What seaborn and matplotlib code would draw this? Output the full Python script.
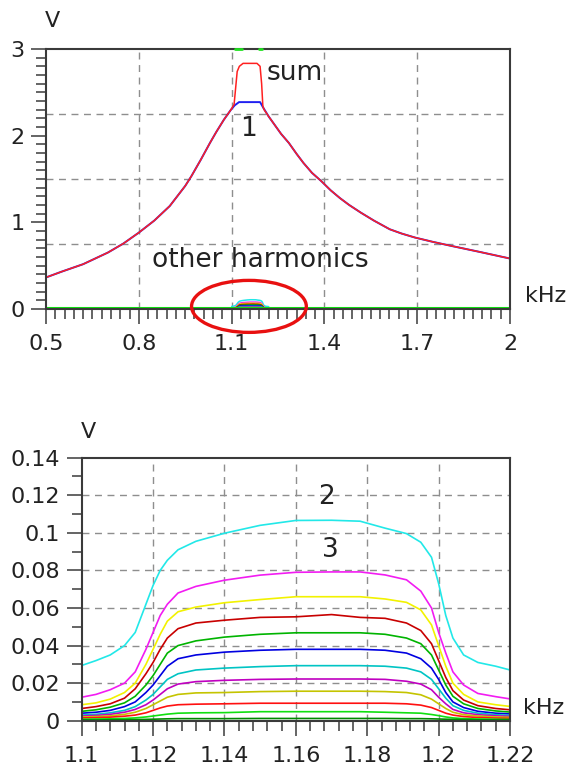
import numpy as np
import pandas as pd
import matplotlib
matplotlib.use("Agg")
import matplotlib.pyplot as plt
import seaborn as sns
from matplotlib.patches import Ellipse

sns.set_theme(style="white")
plt.rcParams['font.family'] = ['DejaVu Sans']

# ---------------- data: top panel (0.5 .. 2 kHz) ----------------
freq_h1 = [0.50, 0.55, 0.62, 0.70, 0.75, 0.80, 0.85, 0.90, 0.95, 0.97, 1.00, 1.03,
           1.05, 1.075, 1.098, 1.110, 1.124, 1.192, 1.203, 1.22, 1.24, 1.26, 1.285,
           1.31, 1.332, 1.36, 1.39, 1.42, 1.45, 1.48, 1.518, 1.56, 1.611, 1.65,
           1.693, 1.75, 1.81, 1.90, 2.00]
volt_h1 = [0.364, 0.43, 0.517, 0.651, 0.755, 0.881, 1.02, 1.188, 1.42, 1.533, 1.72, 1.916,
           2.04, 2.184, 2.30, 2.35, 2.387, 2.387, 2.318, 2.22, 2.12, 2.02, 1.916,
           1.79, 1.686, 1.57, 1.475, 1.37, 1.28, 1.20, 1.111, 1.02, 0.920, 0.87,
           0.824, 0.775, 0.728, 0.66, 0.582]

freq_sum = [0.50, 0.55, 0.62, 0.70, 0.75, 0.80, 0.85, 0.90, 0.95, 0.97, 1.00, 1.03,
            1.05, 1.075, 1.098, 1.108, 1.113, 1.118, 1.125, 1.137, 1.182, 1.192,
            1.197, 1.201, 1.205, 1.22, 1.24, 1.26, 1.285, 1.31, 1.332, 1.36, 1.39,
            1.42, 1.45, 1.48, 1.518, 1.56, 1.611, 1.65, 1.693, 1.75, 1.81, 1.90, 2.00]
volt_sum = [0.364, 0.43, 0.517, 0.651, 0.755, 0.881, 1.02, 1.188, 1.42, 1.533, 1.72, 1.916,
            2.04, 2.184, 2.30, 2.36, 2.55, 2.74, 2.80, 2.834, 2.834, 2.80,
            2.60, 2.34, 2.30, 2.22, 2.12, 2.02, 1.916, 1.79, 1.686, 1.57, 1.475,
            1.37, 1.28, 1.20, 1.111, 1.02, 0.920, 0.87, 0.824, 0.775, 0.728, 0.66, 0.582]

freq_floor = [0.50, 2.00]
volt_floor = [0.012, 0.012]

cursor_spans = [(1.110, 1.133), (1.189, 1.197)]

# ---------------- data: bottom panel (1.1 .. 1.22 kHz) ----------------
freq_zoom = [1.100, 1.104, 1.108, 1.112, 1.115, 1.118, 1.120, 1.122, 1.124, 1.127,
             1.132, 1.140, 1.150, 1.160, 1.170, 1.178, 1.185, 1.191, 1.195, 1.198,
             1.200, 1.202, 1.204, 1.207, 1.211, 1.216, 1.220]

harm2 = [0.0294, 0.032, 0.035, 0.040, 0.047, 0.062, 0.072, 0.080, 0.0854, 0.091,
         0.0955, 0.0998, 0.104, 0.1066, 0.1067, 0.1062, 0.1025, 0.0996, 0.095, 0.087,
         0.073, 0.056, 0.044, 0.035, 0.031, 0.029, 0.027]
harm3 = [0.0125, 0.014, 0.0165, 0.020, 0.026, 0.038, 0.047, 0.056, 0.062, 0.068,
         0.0715, 0.0748, 0.0775, 0.079, 0.0792, 0.0792, 0.0776, 0.0750, 0.069, 0.060,
         0.047, 0.036, 0.026, 0.019, 0.0145, 0.0128, 0.0116]
harm4 = [0.0085, 0.0095, 0.0115, 0.015, 0.020, 0.030, 0.038, 0.046, 0.053, 0.058,
         0.0605, 0.0628, 0.0645, 0.066, 0.066, 0.066, 0.0648, 0.063, 0.059, 0.051,
         0.040, 0.029, 0.020, 0.014, 0.010, 0.0085, 0.0076]
harm5 = [0.0065, 0.0075, 0.009, 0.012, 0.017, 0.025, 0.031, 0.038, 0.044, 0.049,
         0.052, 0.0535, 0.055, 0.0553, 0.0565, 0.055, 0.0545, 0.052, 0.048, 0.041,
         0.032, 0.023, 0.016, 0.011, 0.008, 0.0065, 0.0058]
harm6 = [0.005, 0.0058, 0.0072, 0.0095, 0.013, 0.019, 0.024, 0.030, 0.036, 0.040,
         0.0425, 0.0445, 0.046, 0.0468, 0.0468, 0.0468, 0.046, 0.044, 0.041, 0.035,
         0.027, 0.019, 0.013, 0.009, 0.0065, 0.0052, 0.0046]
harm7 = [0.004, 0.0045, 0.0055, 0.0075, 0.010, 0.015, 0.019, 0.024, 0.029, 0.033,
         0.035, 0.0365, 0.0375, 0.038, 0.038, 0.038, 0.0375, 0.036, 0.033, 0.028,
         0.022, 0.015, 0.010, 0.007, 0.005, 0.004, 0.0036]
harm8 = [0.003, 0.0034, 0.0042, 0.0055, 0.0075, 0.011, 0.014, 0.018, 0.022, 0.025,
         0.027, 0.028, 0.0288, 0.0293, 0.0293, 0.0293, 0.029, 0.028, 0.026, 0.022,
         0.017, 0.012, 0.008, 0.0055, 0.004, 0.0032, 0.0028]
harm9 = [0.0025, 0.0028, 0.0034, 0.0045, 0.006, 0.0085, 0.011, 0.014, 0.017, 0.0195,
         0.0208, 0.0215, 0.022, 0.0222, 0.0222, 0.0222, 0.022, 0.021, 0.0195, 0.0165,
         0.0125, 0.009, 0.006, 0.0042, 0.0032, 0.0026, 0.0023]
harm10 = [0.002, 0.0022, 0.0026, 0.0034, 0.0045, 0.0065, 0.0085, 0.0105, 0.0125, 0.014,
          0.0148, 0.015, 0.0155, 0.0157, 0.0157, 0.0157, 0.0155, 0.015, 0.0138, 0.0115,
          0.009, 0.0065, 0.0045, 0.0032, 0.0025, 0.002, 0.0018]
harm11 = [0.0015, 0.0016, 0.0019, 0.0024, 0.003, 0.0042, 0.0055, 0.0068, 0.0078, 0.0085,
          0.0088, 0.009, 0.0093, 0.0093, 0.0093, 0.0093, 0.0093, 0.009, 0.0083, 0.007,
          0.0055, 0.004, 0.003, 0.0022, 0.0017, 0.0014, 0.0012]
harm12 = [0.0008, 0.0009, 0.001, 0.0012, 0.0015, 0.002, 0.0025, 0.003, 0.0035, 0.004,
          0.0042, 0.0043, 0.0048, 0.0048, 0.0048, 0.0048, 0.0045, 0.0042, 0.004, 0.0033,
          0.0027, 0.002, 0.0015, 0.0011, 0.0009, 0.0008, 0.0007]
harm13 = [0.0004, 0.0004, 0.0005, 0.0005, 0.0006, 0.0007, 0.0008, 0.0009, 0.0010, 0.0011,
          0.0011, 0.0011, 0.0012, 0.0012, 0.0012, 0.0012, 0.0012, 0.0011, 0.0011, 0.0010,
          0.0009, 0.0008, 0.0007, 0.0006, 0.0005, 0.0004, 0.0004]

harm_names = ['2', '3', '4', '5', '6', '7', '8', '9', '10', '11', '12', '13']
harm_values = [harm2, harm3, harm4, harm5, harm6, harm7, harm8, harm9, harm10,
               harm11, harm12, harm13]
harm_colors = ['#22E8E8', '#F21CF2', '#F2F200', '#C80000', '#00B400', '#0000E0',
               '#00C4C4', '#C000C0', '#C4C400', '#FF1010', '#10E010', '#008800']

# tick labels
top_xticks = [0.5, 0.8, 1.1, 1.4, 1.7, 2.0]
top_xlabels = ['0.5', '0.8', '1.1', '1.4', '1.7', '2']
top_yticks = [0, 1, 2, 3]
top_ylabels = ['0', '1', '2', '3']
top_vgrid = [0.8, 1.1, 1.4, 1.7]
top_hgrid = [0.75, 1.5, 2.25]

bot_xticks = [1.10, 1.12, 1.14, 1.16, 1.18, 1.20, 1.22]
bot_xlabels = ['1.1', '1.12', '1.14', '1.16', '1.18', '1.2', '1.22']
bot_yticks = [0, 0.02, 0.04, 0.06, 0.08, 0.10, 0.12, 0.14]
bot_ylabels = ['0', '0.02', '0.04', '0.06', '0.08', '0.1', '0.12', '0.14']
bot_vgrid = [1.12, 1.14, 1.16, 1.18, 1.20]
bot_hgrid = [0.02, 0.04, 0.06, 0.08, 0.10, 0.12]

# ---------------- build frames ----------------
harm_df = pd.DataFrame({
    'freq': np.tile(freq_zoom, len(harm_names)),
    'volt': np.concatenate(harm_values),
    'harmonic': np.repeat(harm_names, len(freq_zoom)),
})
palette = dict(zip(harm_names, harm_colors))
h1_df = pd.DataFrame({'freq': freq_h1, 'volt': volt_h1})
sum_df = pd.DataFrame({'freq': freq_sum, 'volt': volt_sum})
floor_df = pd.DataFrame({'freq': freq_floor, 'volt': volt_floor})

TXT = '#222222'
AX = '#3a3a3a'
GRID = '#8e8e8e'

fig = plt.figure(figsize=(5.66, 7.69), dpi=100)
fig.patch.set_facecolor('white')
ax1 = fig.add_axes([0.0813, 0.5982, 0.8198, 0.3381])
ax2 = fig.add_axes([0.1443, 0.0628, 0.7568, 0.3420])


def style(ax, xlim, ylim, xt, xl, yt, yl, xminor, yminor, vgrid, hgrid):
    ax.set_xlim(*xlim)
    ax.set_ylim(*ylim)
    ax.set_facecolor('white')
    for v in vgrid:
        ax.axvline(v, color=GRID, lw=1.0, ls=(0, (5, 4)), zorder=0.5)
    for h in hgrid:
        ax.axhline(h, color=GRID, lw=1.0, ls=(0, (5, 4)), zorder=0.5)
    ax.set_xticks(xt)
    ax.set_xticklabels(xl)
    ax.set_yticks(yt)
    ax.set_yticklabels(yl)
    ax.set_xticks(xminor, minor=True)
    ax.set_yticks(yminor, minor=True)
    ax.tick_params(which='major', direction='out', length=11, width=1.1,
                   color=AX, labelsize=16, labelcolor=TXT)
    ax.tick_params(which='minor', direction='out', length=7.5, width=1.1, color=AX)
    ax.tick_params(axis='x', which='major', pad=7)
    ax.tick_params(axis='y', which='major', pad=4.5)
    ax.tick_params(axis='both', which='both', bottom=True, left=True,
                   top=False, right=False)
    for s in ax.spines.values():
        s.set_visible(True)
        s.set_color(AX)
        s.set_linewidth(1.5)
    ax.set_xlabel('')
    ax.set_ylabel('')
    ax.grid(False)


# ---------------- top panel ----------------
sns.lineplot(data=harm_df, x='freq', y='volt', hue='harmonic', hue_order=harm_names,
             palette=palette, estimator=None, sort=False, lw=1.1, legend=False, ax=ax1)
sns.lineplot(data=floor_df, x='freq', y='volt', color='#10E010', lw=2.2,
             estimator=None, sort=False, ax=ax1)
sns.lineplot(data=h1_df, x='freq', y='volt', color='#2020F0', lw=1.4,
             estimator=None, sort=False, ax=ax1)
sns.lineplot(data=sum_df, x='freq', y='volt', color='#FF2020', lw=1.1,
             estimator=None, sort=False, ax=ax1)
for a, b in cursor_spans:
    ax1.plot([a, b], [3, 3], color='#20E020', lw=2, clip_on=False, zorder=6)

style(ax1, (0.5, 2.0), (0, 3), top_xticks, top_xlabels, top_yticks, top_ylabels,
      np.linspace(0.5, 2.0, 51), np.linspace(0, 3, 31), top_vgrid, top_hgrid)

ax1.add_patch(Ellipse((1.156, 0.03), 0.371, 0.60, fill=False, edgecolor='#E81010',
                      lw=2.4, clip_on=False, zorder=7))
ax1.text(1.214, 2.72, 'sum', fontsize=19, color=TXT, ha='left', va='center')
ax1.text(1.156, 2.08, '1', fontsize=19, color=TXT, ha='center', va='center')
ax1.text(1.192, 0.56, 'other harmonics', fontsize=19, color=TXT, ha='center', va='center')
fig.text(52 / 566, 1 - 21 / 769, 'V', fontsize=16, color=TXT, ha='center', va='center')
fig.text(525 / 566, 1 - 296 / 769, 'kHz', fontsize=16, color=TXT, ha='left', va='center')

# ---------------- bottom panel ----------------
sns.lineplot(data=harm_df, x='freq', y='volt', hue='harmonic', hue_order=harm_names,
             palette=palette, estimator=None, sort=False, lw=1.2, legend=False, ax=ax2)
style(ax2, (1.10, 1.22), (0, 0.14), bot_xticks, bot_xlabels, bot_yticks, bot_ylabels,
      np.linspace(1.10, 1.22, 31), np.linspace(0, 0.14, 15), bot_vgrid, bot_hgrid)
ax2.text(1.1687, 0.1192, '2', fontsize=19, color=TXT, ha='center', va='center')
ax2.text(1.1696, 0.0909, '3', fontsize=19, color=TXT, ha='center', va='center')
fig.text(88 / 566, 1 - 432 / 769, 'V', fontsize=16, color=TXT, ha='center', va='center')
fig.text(523 / 566, 1 - 708 / 769, 'kHz', fontsize=16, color=TXT, ha='left', va='center')

fig.savefig('out.png', dpi=100, facecolor='white')
